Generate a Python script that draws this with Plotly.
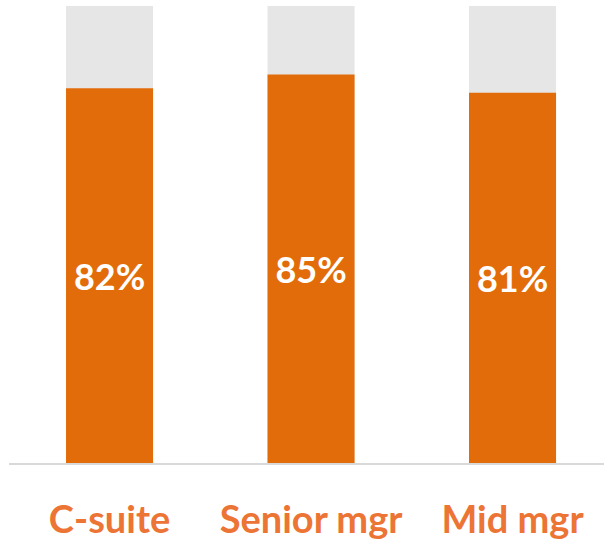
import plotly.graph_objects as go

categories = ["C-suite", "Senior mgr", "Mid mgr"]
values = [0.82, 0.85, 0.81]
totals = [1.0, 1.0, 1.0]

ORANGE = "#E36C0A"
LABEL_ORANGE = "#EC7434"
GRAY = "#E6E6E6"

fig = go.Figure()
fig.add_trace(go.Bar(x=categories, y=totals, marker=dict(color=GRAY, line=dict(width=0)),
                     width=0.432, hoverinfo="skip", showlegend=False))
fig.add_trace(go.Bar(x=categories, y=values, marker=dict(color=ORANGE, line=dict(width=0)),
                     width=0.432, texttemplate="%{y:.0%}", textposition="inside",
                     insidetextanchor="middle", constraintext="none",
                     textfont=dict(family="Lato", size=36, color="white", weight="bold"),
                     showlegend=False))

fig.update_layout(
    width=606, height=540,
    margin=dict(l=9, r=2, t=6, b=77),
    barmode="overlay",
    plot_bgcolor="white", paper_bgcolor="white",
    xaxis=dict(type="category", range=[-0.499, 2.454], showline=True, linecolor="#D9D9D9",
               linewidth=2, showgrid=False, ticks="", ticklabelstandoff=22, automargin=False,
               tickfont=dict(family="Lato", size=38, color=LABEL_ORANGE, weight="bold")),
    yaxis=dict(range=[0, 1], visible=False, showgrid=False, automargin=False),
)

fig.write_html("out.html", config={"displayModeBar": False},
               post_script="document.body.style.margin='0';document.body.style.overflow='hidden';")
